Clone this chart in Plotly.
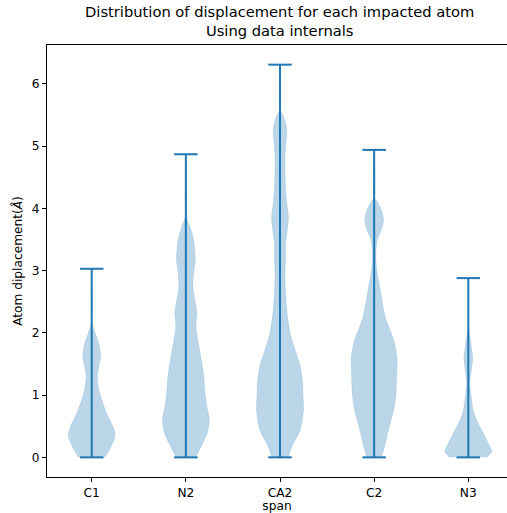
import plotly.graph_objects as go

categories = ["C1", "N2", "CA2", "C2", "N3"]
data_min = [0.0, 0.0, 0.0, 0.0, 0.0]
data_max = [3.03, 4.87, 6.31, 4.94, 2.88]

# density profiles: displacement levels and relative half-widths
c1_levels = [0.00, 0.10, 0.20, 0.35, 0.50, 0.70, 0.90, 1.10, 1.30, 1.45, 1.62, 1.80, 2.00, 2.18, 3.03]
c1_width = [0.55, 0.72, 0.86, 1.00, 0.90, 0.64, 0.45, 0.30, 0.24, 0.30, 0.38, 0.32, 0.15, 0.0, 0.0]

n2_levels = [0.00, 0.10, 0.20, 0.38, 0.60, 0.80, 1.03, 1.35, 1.67, 1.90, 2.10, 2.32, 2.50, 2.75, 2.95, 3.18, 3.50, 3.70, 3.90, 4.87]
n2_width = [0.40, 0.55, 0.68, 0.90, 1.00, 0.90, 0.82, 0.75, 0.61, 0.50, 0.43, 0.47, 0.40, 0.30, 0.33, 0.40, 0.33, 0.18, 0.0, 0.0]

ca2_levels = [0.00, 0.17, 0.44, 0.76, 1.00, 1.19, 1.46, 1.73, 2.00, 2.37, 2.91, 3.20, 3.45, 3.70, 3.88, 4.05, 4.31, 4.79, 5.00, 5.27, 5.45, 5.60, 6.31]
ca2_width = [0.35, 0.50, 0.86, 1.00, 0.98, 0.96, 0.86, 0.64, 0.43, 0.29, 0.21, 0.24, 0.24, 0.33, 0.36, 0.30, 0.24, 0.21, 0.24, 0.29, 0.18, 0.0, 0.0]

c2_levels = [0.00, 0.11, 0.44, 0.81, 1.03, 1.30, 1.62, 1.89, 2.10, 2.26, 2.69, 3.00, 3.23, 3.50, 3.65, 3.80, 3.95, 4.10, 4.17, 4.94]
c2_width = [0.30, 0.40, 0.61, 0.86, 0.93, 0.96, 0.97, 0.83, 0.62, 0.47, 0.26, 0.12, 0.07, 0.14, 0.30, 0.40, 0.33, 0.15, 0.0, 0.0]

n3_levels = [0.00, 0.03, 0.09, 0.22, 0.44, 0.60, 0.76, 1.00, 1.19, 1.40, 1.59, 1.80, 2.00, 2.18, 2.88]
n3_width = [0.80, 0.86, 1.00, 0.86, 0.57, 0.35, 0.21, 0.12, 0.07, 0.13, 0.19, 0.12, 0.05, 0.0, 0.0]

profiles = [
    (c1_levels, c1_width),
    (n2_levels, n2_width),
    (ca2_levels, ca2_width),
    (c2_levels, c2_width),
    (n3_levels, n3_width),
]

C0 = "#1f77b4"
half_max = 0.25
cap_half = 0.125

fig = go.Figure()

for i, (lv, wd) in enumerate(profiles):
    pos = i + 1
    xs = [pos + half_max * w for w in wd] + [pos - half_max * w for w in reversed(wd)]
    ys = list(lv) + list(reversed(lv))
    fig.add_trace(go.Scatter(
        x=xs, y=ys, mode="lines", fill="toself",
        fillcolor="rgba(31,119,180,0.3)",
        line=dict(color="rgba(31,119,180,0.15)", width=0.8, shape="spline", smoothing=0.8),
        hoverinfo="skip", showlegend=False,
    ))

for i in range(len(categories)):
    pos = i + 1
    fig.add_trace(go.Scatter(
        x=[pos, pos], y=[data_min[i], data_max[i]], mode="lines",
        line=dict(color=C0, width=2), showlegend=False, hoverinfo="skip",
    ))
    for v in (data_min[i], data_max[i]):
        fig.add_trace(go.Scatter(
            x=[pos - cap_half, pos + cap_half], y=[v, v], mode="lines",
            line=dict(color=C0, width=2), showlegend=False, hoverinfo="skip",
        ))

TICK = 12.2
TITLE = 14.7

fig.add_annotation(
    text="Distribution of displacement for each impacted atom<br>Using data internals",
    xref="paper", yref="paper", x=0.5065, y=1.0, xanchor="center", yanchor="bottom",
    yshift=4, showarrow=False, align="center",
    font=dict(family="DejaVu Sans", size=TITLE, color="black"),
)

fig.update_layout(
    width=507, height=513,
    margin=dict(l=47, r=0, t=45, b=36.4),
    paper_bgcolor="white", plot_bgcolor="white",
    font=dict(family="DejaVu Sans", size=TICK, color="black"),
    xaxis=dict(
        range=[0.525, 5.411],
        tickmode="array", tickvals=[1, 2, 3, 4, 5], ticktext=categories,
        showgrid=False, zeroline=False,
        showline=True, linecolor="black", linewidth=1, mirror=True,
        ticks="outside", ticklen=4, tickcolor="black",
        tickfont=dict(family="DejaVu Sans", size=TICK, color="black"),
        title=dict(text="span", font=dict(family="DejaVu Sans", size=TICK, color="black"), standoff=1),
    ),
    yaxis=dict(
        range=[-0.3155, 6.6255],
        tickmode="array", tickvals=[0, 1, 2, 3, 4, 5, 6],
        showgrid=False, zeroline=False,
        showline=True, linecolor="black", linewidth=1, mirror=False,
        ticks="outside", ticklen=4, tickcolor="black",
        tickfont=dict(family="DejaVu Sans", size=TICK, color="black"),
        title=dict(text="Atom diplacement(<i>Å</i>)", font=dict(family="DejaVu Sans", size=TICK, color="black"), standoff=6),
    ),
)

fig.write_html("out.html")
